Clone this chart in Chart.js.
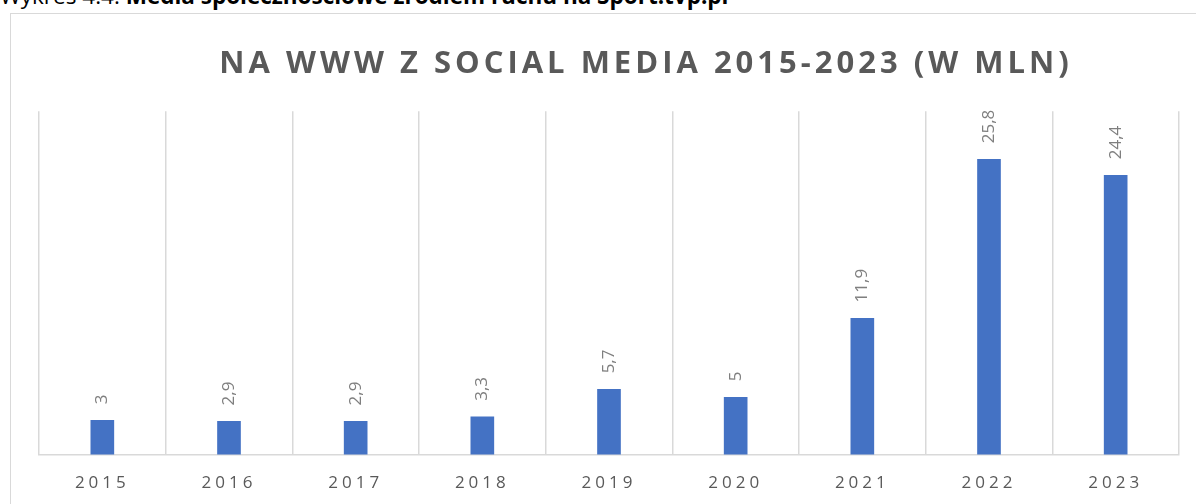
<!DOCTYPE html>
<html>
<head>
<meta charset="utf-8">
<script src="https://cdn.jsdelivr.net/npm/chart.js@4.4.1/dist/chart.umd.min.js"></script>
<style>
  html, body { margin: 0; padding: 0; background: #ffffff; overflow: hidden; width: 1196px; height: 504px; }
  #caption { position: absolute; left: 0; top: -17px; font-family: "Open Sans", sans-serif; font-size: 22.5px; color: #000; white-space: nowrap; line-height: 26px; }
  #caption b { font-weight: 700; }
  #frame { position: absolute; left: 10px; top: 13px; width: 1270px; height: 525px; border: 1px solid #d9d9d9; background: #fff; }
  canvas { display: block; }
</style>
</head>
<body>
<div id="caption">Wykres 4.4. <b>Media społecznościowe źródłem ruchu na Sport.tvp.pl</b></div>
<div id="frame"><canvas id="c" width="1270" height="512"></canvas></div>
<script>
const titleText = "NA WWW Z SOCIAL MEDIA 2015-2023 (W MLN)";
const categories = ["2015", "2016", "2017", "2018", "2019", "2020", "2021", "2022", "2023"];
const values = [3, 2.9, 2.9, 3.3, 5.7, 5, 11.9, 25.8, 24.4];
const valueLabels = ["3", "2,9", "2,9", "3,3", "5,7", "5", "11,9", "25,8", "24,4"];

const spacingPlugin = {
  id: 'spacing',
  beforeUpdate(chart) { chart.ctx.letterSpacing = '4px'; },
  beforeDraw(chart) { chart.ctx.letterSpacing = '4px'; }
};

const labelPlugin = {
  id: 'vlabels',
  afterDatasetsDraw(chart) {
    const ctx = chart.ctx;
    const meta = chart.getDatasetMeta(0);
    ctx.save();
    ctx.letterSpacing = '0px';
    ctx.font = '17px "Open Sans", sans-serif';
    ctx.fillStyle = '#7f7f7f';
    ctx.textAlign = 'left';
    ctx.textBaseline = 'middle';
    meta.data.forEach((bar, i) => {
      ctx.save();
      ctx.translate(bar.x, bar.y - 16);
      ctx.rotate(-Math.PI / 2);
      ctx.fillText(valueLabels[i], 0, 0);
      ctx.restore();
    });
    ctx.restore();
  }
};

new Chart(document.getElementById('c'), {
  type: 'bar',
  data: {
    labels: categories,
    datasets: [{
      data: values,
      backgroundColor: '#4472c4',
      borderWidth: 0,
      barThickness: 23
    }]
  },
  options: {
    responsive: false,
    animation: false,
    devicePixelRatio: 1,
    layout: { padding: { left: 28, right: 28, top: 0, bottom: 15 } },
    plugins: {
      legend: { display: false },
      tooltip: { enabled: false },
      title: {
        display: true,
        text: titleText,
        color: '#595959',
        font: { family: '"Open Sans", sans-serif', size: 31, weight: 'bold' },
        padding: { top: 32, bottom: 28 }
      }
    },
    scales: {
      x: {
        offset: true,
        grid: { display: true, offset: true, color: '#d9d9d9', lineWidth: 1.5, drawTicks: false },
        border: { display: true, color: '#d9d9d9', width: 1.5 },
        ticks: { color: '#595959', font: { family: '"Open Sans", sans-serif', size: 17 }, padding: 18, maxRotation: 0 }
      },
      y: {
        position: 'right',
        min: 0,
        max: 30,
        grid: { display: false },
        border: { display: false },
        ticks: { display: false },
        afterFit(scale) { scale.width = 74; }
      }
    }
  },
  plugins: [spacingPlugin, labelPlugin]
});
</script>
</body>
</html>
